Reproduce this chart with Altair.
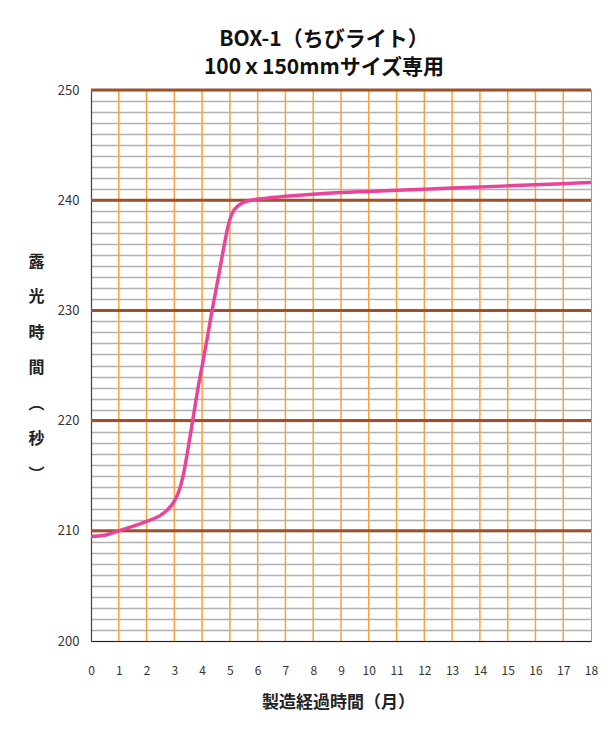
import altair as alt
import pandas as pd

# --- data ---
months = [0, 0.5, 1, 1.5, 2, 2.5, 2.75, 3, 3.15, 3.3, 3.45, 3.66, 3.87, 4.05,
          4.2, 4.36, 4.6, 4.78, 4.96, 5.08, 5.3, 5.74, 6, 7, 8, 9, 10, 11, 12,
          13, 14, 15, 16, 17, 18]
exposure = [209.5, 209.6, 210.0, 210.4, 210.85, 211.4, 211.9, 212.7, 213.5,
            214.8, 216.8, 220.0, 223.2, 225.6, 227.7, 230.0, 233.2, 235.7,
            237.9, 238.8, 239.5, 240.0, 240.1, 240.35, 240.55, 240.7, 240.8,
            240.9, 241.0, 241.1, 241.2, 241.3, 241.4, 241.5, 241.6]
month_ticks = list(range(0, 19))
orange_lines = list(range(1, 18))
minor_levels = list(range(200, 251))
major_levels = [210, 220, 230, 240, 250]

title_lines = ["BOX-1（ちびライト）", "100ｘ150mmサイズ専用"]
x_title = "製造経過時間（月）"
y_title = ["露", "光", "時", "間", "︵", "秒", "︶"]

FONT = "Noto Sans CJK JP"

curve = pd.DataFrame({"m": months, "v": exposure})
vlines = pd.DataFrame({"m": orange_lines})
hmajor = pd.DataFrame({"v": major_levels})

x_scale = alt.Scale(domain=[0, 18], nice=False, zero=False)
y_scale = alt.Scale(domain=[200, 250], nice=False, zero=False)

x_axis = alt.Axis(
    values=month_ticks, title=x_title, grid=False, ticks=False,
    labelPadding=24, labelFontSize=12, labelFont=FONT, labelColor="#333",
    labelFontWeight="normal", labelFlush=False,
    domainColor="#222", domainWidth=1.2,
    titleFont=FONT, titleFontSize=17, titleFontWeight="bold",
    titleColor="#222", titleBaseline="middle", titleY=61, titleX=247,
)
y_axis = alt.Axis(
    values=minor_levels,
    labelExpr="datum.value % 10 == 0 ? datum.label : ''",
    grid=True, gridColor="#b0b0b0", gridWidth=1.5, labelFlush=False,
    ticks=False, labelPadding=12, labelFontSize=13, labelFont=FONT,
    labelColor="#333", domainColor="#444", domainWidth=1.2,
    title=y_title, titleAngle=0, titleFont=FONT, titleFontSize=16,
    titleFontWeight="bold", titleColor="#222", titleLineHeight=35.5,
    titleAlign="center", titleBaseline="top", titleX=-55, titleY=163,
)

vrules = alt.Chart(vlines).mark_rule(color="#f7a23c", strokeWidth=1.5).encode(
    x=alt.X("m:Q", scale=x_scale, axis=x_axis)
)

hrules = alt.Chart(hmajor).mark_rule(color="#a0502d", strokeWidth=3).encode(
    y=alt.Y("v:Q", scale=y_scale, axis=y_axis)
)

line = alt.Chart(curve).mark_line(
    color="#e8449a", strokeWidth=3.5, interpolate="monotone"
).encode(
    x=alt.X("m:Q", scale=x_scale, axis=x_axis),
    y=alt.Y("v:Q", scale=y_scale, axis=y_axis),
)

chart = alt.layer(vrules, hrules, line).properties(
    width=500,
    height=551,
    padding={"left": 83, "top": 82, "right": 12, "bottom": 80},
    autosize=alt.AutoSizeParams(type="none"),
    title=alt.TitleParams(
        text=title_lines, font=FONT, fontSize=21, fontWeight="bold",
        color="#111", anchor="middle", lineHeight=28, offset=6, dx=-17,
    ),
    background="white",
).configure_view(stroke="#999", strokeWidth=1)

chart.save("out.html", embed_options={"renderer": "svg", "actions": False})
